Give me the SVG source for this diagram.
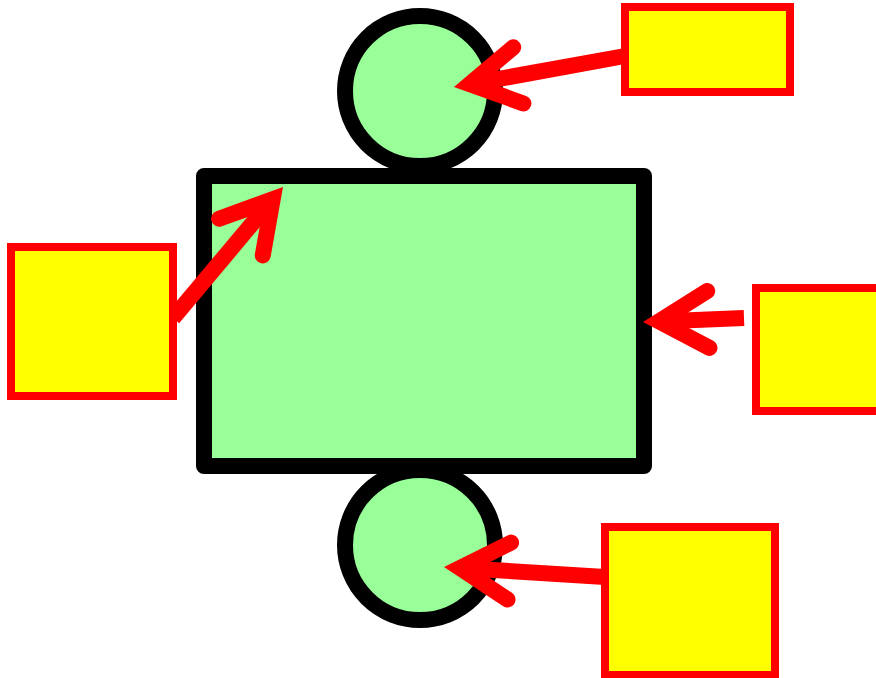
<svg xmlns="http://www.w3.org/2000/svg" width="876" height="678" viewBox="0 0 876 678">
  <style>
    .body { fill: #99ff99; stroke: #000000; stroke-width: 16; stroke-linejoin: round; }
    .box { fill: #ffff00; stroke: #ff0000; stroke-width: 8; }
    .conn { fill: none; stroke: #ff0000; stroke-width: 16; stroke-linecap: butt; }
  </style>
  <defs>
    <marker id="chev" markerUnits="userSpaceOnUse" orient="auto" refX="0" refY="0" markerWidth="10" markerHeight="10" overflow="visible">
      <path d="M -49.4,-28.5 L 0,0 L -49.4,28.5" fill="none" stroke="#ff0000" stroke-width="16" stroke-linecap="round" stroke-linejoin="miter" stroke-miterlimit="10"/>
    </marker>
  </defs>
  <rect width="876" height="678" fill="#ffffff"/>
  <g id="circle-top"><circle class="body" cx="420" cy="91" r="75"/></g>
  <g id="circle-bottom"><circle class="body" cx="420" cy="545" r="75"/></g>
  <g id="main-rect"><rect class="body" x="204" y="176" width="440" height="290"/></g>
  <g id="connectors">
    <line class="conn" x1="625" y1="56" x2="469.7" y2="84.2" marker-end="url(#chev)"/>
    <line class="conn" x1="173" y1="318" x2="272.7" y2="199.3" marker-end="url(#chev)"/>
    <line class="conn" x1="744" y1="318" x2="659" y2="321.4" marker-end="url(#chev)"/>
    <line class="conn" x1="605" y1="577" x2="460" y2="568" marker-end="url(#chev)"/>
  </g>
  <g id="box-top-right"><rect class="box" x="625" y="7" width="165" height="85"/></g>
  <g id="box-left"><rect class="box" x="11" y="247" width="162" height="149"/></g>
  <g id="box-right"><rect class="box" x="756" y="288" width="124" height="123"/></g>
  <g id="box-bottom-right"><rect class="box" x="605" y="527" width="170" height="148"/></g>
</svg>
